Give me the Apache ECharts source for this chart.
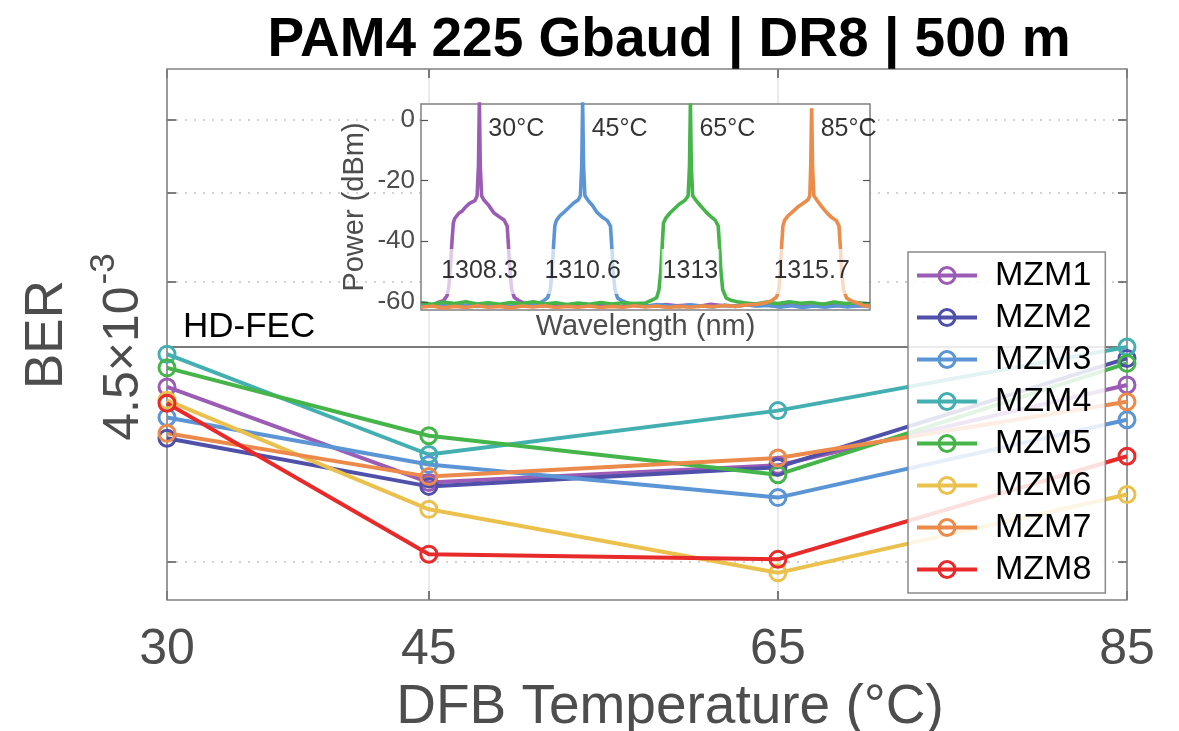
<!DOCTYPE html>
<html><head><meta charset="utf-8">
<script src="https://cdn.jsdelivr.net/npm/echarts@6/dist/echarts.min.js"></script>
<style>html,body{margin:0;padding:0;background:#fff}#c{width:1179px;height:731px}</style>
</head><body><div id="c"></div>
<script>
// ---------- data ----------
const temps = [30, 45, 65, 85];
const mzmNames = ['MZM1','MZM2','MZM3','MZM4','MZM5','MZM6','MZM7','MZM8'];
const mzm1 = [3.87e-3, 2.70e-3, 2.88e-3, 3.90e-3];
const mzm2 = [3.19e-3, 2.66e-3, 2.86e-3, 4.31e-3];
const mzm3 = [3.45e-3, 2.89e-3, 2.55e-3, 3.42e-3];
const mzm4 = [4.38e-3, 3.00e-3, 3.54e-3, 4.50e-3];
const mzm5 = [4.16e-3, 3.22e-3, 2.78e-3, 4.23e-3];
const mzm6 = [3.68e-3, 2.44e-3, 1.92e-3, 2.58e-3];
const mzm7 = [3.25e-3, 2.76e-3, 2.96e-3, 3.66e-3];
const mzm8 = [3.64e-3, 2.06e-3, 2.02e-3, 2.98e-3];
const hdFec = 4.5e-3;
const berGrid = [2.0e-3, 5.75e-3, 8.05e-3, 1.059e-2];
const berMin = 1.733e-3, berMax = 1.284e-2;

const tempLabels = ['30°C', '45°C', '65°C', '85°C'];
const peakWl = [1308.3, 1310.6, 1313, 1315.7];
const powerTicks = [-60, -40, -20, 0];

const spec30 = [[1307.0,-61.2],[1307.1,-60.6],[1307.2,-61.3],
 [1307.30,-60.8],[1307.38,-60.2],[1307.50,-59.6],[1307.58,-58.0],[1307.62,-55],[1307.66,-48],[1307.69,-40],[1307.72,-34],[1307.75,-32.5],[1307.84,-30.8],[1307.92,-30],[1308.00,-28.6],[1308.08,-27.5],[1308.20,-26.6],[1308.25,-25],[1308.28,-15],[1308.30,6],[1308.32,-15],[1308.35,-25],[1308.40,-26.4],[1308.50,-28],[1308.62,-30.6],[1308.75,-32],[1308.85,-33],[1308.92,-35],[1308.95,-42],[1308.98,-50],[1309.02,-56],[1309.08,-58.6],[1309.20,-59.8],[1309.32,-60.6],
 [1309.45,-61.0],[1309.7,-61.4],[1309.95,-60.8],[1310.2,-61.2],[1310.45,-61.5],[1310.7,-60.9],[1310.95,-61.3],[1311.2,-61.0],[1311.45,-61.6],[1311.7,-60.8],[1311.95,-61.2],[1312.2,-61.4],[1312.45,-60.9],[1312.7,-61.3],[1312.95,-61.1],[1313.2,-61.5],[1313.45,-60.8],[1313.7,-61.2],[1313.95,-61.4],[1314.2,-60.9],[1314.45,-61.3],[1314.7,-61.0],[1314.95,-61.5],[1315.2,-60.9],[1315.45,-61.2],[1315.7,-61.4],[1315.95,-60.8],[1316.2,-61.3],[1316.45,-61.0],[1316.7,-61.4],[1317.0,-61.1]];
const spec45 = [[1307.0,-61.0],[1307.25,-61.4],[1307.5,-60.9],[1307.75,-61.3],[1308.0,-61.1],[1308.25,-61.5],[1308.5,-60.9],[1308.75,-61.2],[1309.0,-61.4],[1309.25,-60.9],[1309.5,-61.1],
 [1309.62,-60.5],[1309.72,-59.8],[1309.82,-58.6],[1309.88,-56],[1309.92,-50],[1309.95,-42],[1309.98,-35],[1310.02,-33],[1310.10,-31.5],[1310.20,-30.2],[1310.30,-28.8],[1310.40,-27.4],[1310.50,-26.4],[1310.55,-25],[1310.58,-15],[1310.60,6],[1310.62,-15],[1310.65,-25],[1310.72,-26.5],[1310.82,-28.2],[1310.92,-30.5],[1311.05,-32.2],[1311.15,-33.2],[1311.22,-35],[1311.25,-42],[1311.28,-50],[1311.32,-56],[1311.38,-58.8],[1311.50,-59.8],[1311.62,-60.6],
 [1311.75,-61.2],[1312.0,-61.5],[1312.25,-60.9],[1312.5,-61.3],[1312.75,-61.6],[1313.0,-61.0],[1313.25,-61.4],[1313.5,-61.7],[1313.75,-61.1],[1314.0,-61.5],[1314.25,-61.0],[1314.5,-61.4],[1314.75,-61.2],[1315.0,-61.8],[1315.25,-61.3],[1315.5,-61.9],[1315.75,-61.4],[1316.0,-61.8],[1316.25,-61.3],[1316.5,-61.7],[1316.75,-61.2],[1317.0,-61.6]];
const spec65 = [[1307.0,-60.2],[1307.25,-60.8],[1307.5,-60.1],[1307.75,-60.6],[1308.0,-60.0],[1308.25,-60.7],[1308.5,-60.3],[1308.75,-60.8],[1309.0,-60.2],[1309.25,-60.6],[1309.5,-60.0],[1309.75,-60.7],[1310.0,-60.3],[1310.25,-60.9],[1310.5,-60.4],[1310.75,-60.8],[1311.0,-60.2],[1311.25,-60.7],[1311.5,-60.3],[1311.75,-60.6],[1312.0,-60.4],
 [1312.05,-60.0],[1312.15,-59.4],[1312.25,-58.6],[1312.30,-56],[1312.34,-50],[1312.37,-42],[1312.40,-34],[1312.45,-32.4],[1312.55,-30.6],[1312.65,-29.2],[1312.75,-27.8],[1312.88,-26.5],[1312.95,-25],[1312.98,-15],[1313.00,5.5],[1313.02,-15],[1313.05,-25],[1313.12,-26.4],[1313.22,-28.2],[1313.35,-30.4],[1313.45,-31.8],[1313.55,-33],[1313.62,-35],[1313.65,-42],[1313.68,-50],[1313.72,-56],[1313.80,-58.8],[1313.92,-59.6],[1314.05,-60.0],
 [1314.2,-60.3],[1314.45,-60.7],[1314.7,-60.1],[1314.95,-60.6],[1315.2,-60.0],[1315.45,-60.5],[1315.7,-60.2],[1315.95,-60.8],[1316.2,-60.1],[1316.45,-60.6],[1316.7,-60.2],[1317.0,-60.7]];
const spec85 = [[1307.0,-61.8],[1307.25,-61.4],[1307.5,-62.0],[1307.75,-61.5],[1308.0,-61.9],[1308.25,-61.3],[1308.5,-61.8],[1308.75,-61.5],[1309.0,-62.0],[1309.25,-61.4],[1309.5,-61.7],[1309.75,-61.3],[1310.0,-61.9],[1310.25,-61.5],[1310.5,-61.8],[1310.75,-61.4],[1311.0,-61.9],[1311.25,-61.5],[1311.5,-61.8],[1311.75,-61.3],[1312.0,-61.7],[1312.25,-61.4],[1312.5,-61.9],[1312.75,-61.5],[1313.0,-61.8],[1313.25,-61.4],[1313.5,-61.6],[1313.75,-61.2],[1314.0,-61.5],[1314.25,-61.0],[1314.5,-60.8],
 [1314.7,-60.2],[1314.82,-59.5],[1314.92,-58.4],[1314.97,-56],[1315.00,-50],[1315.03,-42],[1315.06,-35],[1315.10,-33],[1315.18,-31.5],[1315.28,-30.2],[1315.40,-28.6],[1315.52,-27.4],[1315.62,-26.3],[1315.66,-25],[1315.68,-15],[1315.70,3.9],[1315.72,-15],[1315.75,-25],[1315.82,-26.5],[1315.92,-28.5],[1316.05,-30.8],[1316.15,-32.2],[1316.25,-33.2],[1316.31,-35],[1316.34,-42],[1316.37,-50],[1316.41,-56],[1316.48,-58.8],[1316.60,-59.8],[1316.72,-60.4],
 [1316.85,-61.2],[1317.0,-61.5]];

// ---------- styling ----------
const FONT = '"Liberation Sans", Arial, Helvetica, sans-serif';
const mzmData = [mzm1, mzm2, mzm3, mzm4, mzm5, mzm6, mzm7, mzm8];
const mzmColors = ['#9a5cb4', '#5050aa', '#5b95d5', '#44afb0', '#45b54a', '#ebc14e', '#eb8a4b', '#e82a2a'];
const specData = [spec30, spec45, spec65, spec85];
const specColors = ['#9a5cb4', '#5b95d5', '#45b54a', '#ec8c4a'];
const axisGray = '#808080';
const textGray = '#4d4d4d';

const main = { left: 167, top: 69, width: 960, height: 531 };
const inset = { left: 421, top: 104, width: 449, height: 206 };
const pMin = -62.7, pMax = 5.3;

const series = [];
// HD-FEC threshold line
series.push({
  type: 'line', xAxisIndex: 0, yAxisIndex: 0, z: 2, silent: true,
  data: [
    { value: [temps[0], hdFec], label: { show: true, formatter: 'HD-FEC', position: [16, -37], fontFamily: FONT, fontSize: 35, color: '#000' } },
    { value: [temps[temps.length - 1], hdFec] }
  ],
  symbol: 'circle', symbolSize: 0, showSymbol: true,
  lineStyle: { color: '#7a7a7a', width: 1.8 },
  label: { show: false }, emphasis: { disabled: true }
});
mzmNames.forEach((n, i) => {
  series.push({
    name: n, type: 'line', xAxisIndex: 0, yAxisIndex: 0, z: 3,
    data: temps.map((t, j) => [t, mzmData[i][j]]),
    symbol: 'circle', symbolSize: 16, showSymbol: true,
    lineStyle: { color: mzmColors[i], width: 4 },
    itemStyle: { color: 'rgba(255,255,255,0)', borderColor: mzmColors[i], borderWidth: 3 },
    emphasis: { disabled: true }
  });
});
specData.forEach((d, i) => {
  series.push({
    name: 'spec' + i, type: 'line', xAxisIndex: 2, yAxisIndex: 2, z: 4,
    data: d, showSymbol: false, symbol: 'none', clip: true,
    lineStyle: { color: specColors[i], width: 3.6 }, emphasis: { disabled: true }
  });
});
// temperature labels
series.push({
  type: 'scatter', xAxisIndex: 2, yAxisIndex: 2, z: 6, symbolSize: 0, silent: true,
  data: peakWl.map((w, i) => ({ value: [w, -3], name: tempLabels[i] })),
  label: { show: true, position: 'right', distance: 9, formatter: p => p.name, fontFamily: FONT, fontSize: 25, color: '#000' }
});
// wavelength labels
series.push({
  type: 'scatter', xAxisIndex: 2, yAxisIndex: 2, z: 6, symbolSize: 0, silent: true,
  data: peakWl.map(w => ({ value: [w, -50], name: String(w) })),
  label: { show: true, position: 'inside', formatter: p => p.name, fontFamily: FONT, fontSize: 25, color: '#000',
    backgroundColor: 'rgba(255,255,255,0.85)', padding: [10, 1] }
});

const option = {
  animation: false,
  backgroundColor: '#fff',
  textStyle: { fontFamily: FONT },
  title: {
    text: 'PAM4 225 Gbaud | DR8 | 500 m', left: 664, top: 8, textAlign: 'center',
    textStyle: { fontFamily: FONT, fontSize: 55, fontWeight: 'bold', color: '#000' }
  },
  legend: {
    data: mzmNames, orient: 'vertical', left: 908, top: 252, z: 10,
    backgroundColor: 'rgba(255,255,255,0.85)', borderColor: '#8a8a8a', borderWidth: 1.5, borderRadius: 0,
    padding: [6, 14, 6, 7], itemWidth: 60, itemHeight: 20, itemGap: 7,
    lineStyle: { width: 4 }, itemStyle: { borderWidth: 3 },
    textStyle: { fontFamily: FONT, fontSize: 34, color: '#000', lineHeight: 35, padding: [0, 0, 0, 13] },
    selectedMode: false
  },
  grid: [
    { left: main.left, top: main.top, width: main.width, height: main.height, show: true, borderColor: axisGray, borderWidth: 1.5, backgroundColor: 'rgba(255,255,255,0)', z: 1, containLabel: false, outerBoundsMode: 'none' },
    { left: inset.left, top: inset.top, width: inset.width, height: inset.height, show: true, borderColor: axisGray, borderWidth: 1.5, backgroundColor: '#fff', z: 2, containLabel: false, outerBoundsMode: 'none' }
  ],
  xAxis: [
    { gridIndex: 0, type: 'value', min: 30, max: 85, position: 'bottom',
      axisLine: { show: false },
      splitLine: { show: true, lineStyle: { color: '#e4e4e4', width: 1.5, type: 'solid' } },
      axisTick: { show: true, inside: true, length: 9, customValues: temps, lineStyle: { color: '#555', width: 1.5 } },
      axisLabel: { show: true, customValues: temps, fontFamily: FONT, fontSize: 50, color: textGray, margin: 25 },
      name: 'DFB Temperature (°C)', nameLocation: 'middle', nameGap: 78,
      nameTextStyle: { fontFamily: FONT, fontSize: 55, color: textGray, padding: [0, 0, 0, 46] } },
    { gridIndex: 0, type: 'value', min: 30, max: 85, position: 'top',
      axisLine: { show: false }, splitLine: { show: false }, axisLabel: { show: false },
      axisTick: { show: true, inside: true, length: 9, customValues: temps, lineStyle: { color: '#555', width: 1.5 } } },
    { gridIndex: 1, type: 'value', min: 1307, max: 1317, z: 5,
      axisLine: { show: false }, splitLine: { show: false }, axisLabel: { show: false }, axisTick: { show: false },
      name: 'Wavelength (nm)', nameLocation: 'middle', nameGap: 2,
      nameTextStyle: { fontFamily: FONT, fontSize: 29, color: textGray, verticalAlign: 'top' } }
  ],
  yAxis: [
    { gridIndex: 0, type: 'log', logBase: 10, min: berMin, max: berMax, position: 'left',
      axisLine: { show: false }, minorTick: { show: false },
      splitLine: { show: true, lineStyle: { color: '#c4c4c4', width: 1.5, type: [2, 7] } },
      axisTick: { show: true, inside: true, length: 9, customValues: berGrid, lineStyle: { color: '#555', width: 1.5 } },
      axisLabel: { show: true, customValues: [hdFec], rotate: 90, margin: 5, color: textGray,
        formatter: () => '{a|4.5×10}{b|-3}',
        rich: { a: { fontFamily: FONT, fontSize: 50, color: textGray, lineHeight: 52 },
                b: { fontFamily: FONT, fontSize: 35, color: textGray, padding: [0, 0, 40, 2] } } },
      name: 'BER', nameLocation: 'middle', nameGap: 93, nameRotate: 90,
      nameTextStyle: { fontFamily: FONT, fontSize: 53, color: textGray } },
    { gridIndex: 0, type: 'log', logBase: 10, min: berMin, max: berMax, position: 'right',
      axisLine: { show: false }, splitLine: { show: false }, axisLabel: { show: false },
      axisTick: { show: true, inside: true, length: 9, customValues: berGrid, lineStyle: { color: '#555', width: 1.5 } } },
    { gridIndex: 1, type: 'value', min: pMin, max: pMax, position: 'left', z: 5,
      axisLine: { show: false }, splitLine: { show: false },
      axisTick: { show: true, inside: true, length: 7, customValues: powerTicks, lineStyle: { color: '#555', width: 1.2 } },
      axisLabel: { show: true, customValues: powerTicks, fontFamily: FONT, fontSize: 26, color: textGray, margin: 6 },
      name: 'Power (dBm)', nameLocation: 'middle', nameGap: 52, nameRotate: 90,
      nameTextStyle: { fontFamily: FONT, fontSize: 29, color: textGray } },
    { gridIndex: 1, type: 'value', min: pMin, max: pMax, position: 'right', z: 5,
      axisLine: { show: false }, splitLine: { show: false }, axisLabel: { show: false },
      axisTick: { show: true, inside: true, length: 7, customValues: powerTicks, lineStyle: { color: '#555', width: 1.2 } } }
  ],
  series: series
};
const chart = echarts.init(document.getElementById('c'), null, { renderer: 'canvas' });
chart.setOption(option);
</script></body></html>
